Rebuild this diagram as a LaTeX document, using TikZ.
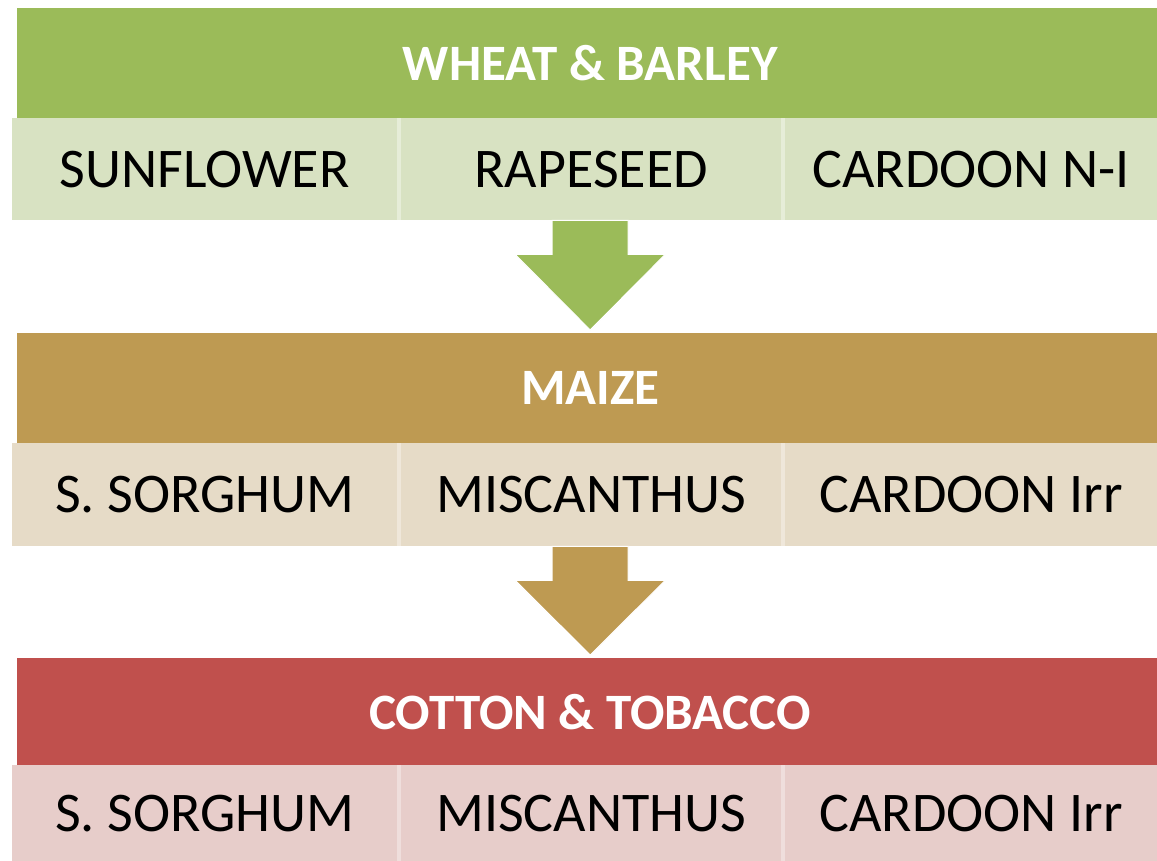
\documentclass[tikz,border=0pt]{standalone}
\usepackage{fontspec}
\setmainfont{Carlito}
\usetikzlibrary{calc}
\definecolor{hgreen}{HTML}{9BBB59}
\definecolor{cgreen}{HTML}{D8E2C2}
\definecolor{ggreen}{HTML}{E6EDD8}
\definecolor{htan}{HTML}{BE9A52}
\definecolor{ctan}{HTML}{E6DBC7}
\definecolor{gtan}{HTML}{EFE7DA}
\definecolor{hred}{HTML}{C0504D}
\definecolor{cred}{HTML}{E7CDCA}
\definecolor{gred}{HTML}{EFDEDC}
\begin{document}
\begin{tikzpicture}[x=1pt,y=-1pt,
  header/.style={rectangle,anchor=north west,inner sep=0pt,minimum width=1140pt,minimum height=110pt,
    text=white,font=\fontsize{51}{56}\selectfont\bfseries},
  cell/.style={rectangle,anchor=north west,inner sep=0pt,minimum height=102pt,
    text=black,font=\fontsize{56}{62}\selectfont},
  blockarrow/.style={draw=white,line width=1pt}]
\useasboundingbox (0,0) rectangle (1157,861);
\fill[white] (0,0) rectangle (1157,861);

% Row 1
\node[header,fill=hgreen] (h1) at (17,8) {\hspace*{6pt}WHEAT \& BARLEY};
\fill[ggreen] (12,118) rectangle (1157,220);
\node[cell,fill=cgreen,minimum width=385pt] (c11) at (12,118) {SUNFLOWER};
\node[cell,fill=cgreen,minimum width=380pt] (c12) at (401,118) {RAPESEED};
\node[cell,fill=cgreen,minimum width=372pt] (c13) at (785,118) {CARDOON N-I};

% Row 2
\node[header,fill=htan] (h2) at (17,333) {\hspace*{6pt}MAIZE};
\fill[gtan] (12,443) rectangle (1157,546);
\node[cell,fill=ctan,minimum width=385pt,minimum height=103pt] (c21) at (12,443) {S. SORGHUM};
\node[cell,fill=ctan,minimum width=380pt,minimum height=103pt] (c22) at (401,443) {MISCANTHUS};
\node[cell,fill=ctan,minimum width=372pt,minimum height=103pt] (c23) at (785,443) {CARDOON Irr};

% Row 3
\node[header,fill=hred,minimum height=107pt] (h3) at (17,658) {\hspace*{6pt}COTTON \& TOBACCO};
\fill[gred] (12,765) rectangle (1157,861);
\node[cell,fill=cred,minimum width=385pt,minimum height=96pt] (c31) at (12,765) {S. SORGHUM};
\node[cell,fill=cred,minimum width=380pt,minimum height=96pt] (c32) at (401,765) {MISCANTHUS};
\node[cell,fill=cred,minimum width=372pt,minimum height=96pt] (c33) at (785,765) {CARDOON Irr};

% Arrows
\coordinate (a1) at ($(c12.south)+(-1,0)$);
\coordinate (t1) at ($(h2.north)+(3,-3)$);
\filldraw[blockarrow,fill=hgreen] ($(a1)+(-38,0)$) -- ($(a1)+(38,0)$) -- ($(a1)+(38,34)$) -- ($(a1)+(75,34)$)
  -- (t1) -- ($(a1)+(-75,34)$) -- ($(a1)+(-38,34)$) -- cycle;

\coordinate (a2) at ($(c22.south)+(-1,0)$);
\coordinate (t2) at ($(h3.north)+(3,-3)$);
\filldraw[blockarrow,fill=htan] ($(a2)+(-38,0)$) -- ($(a2)+(38,0)$) -- ($(a2)+(38,34)$) -- ($(a2)+(75,34)$)
  -- (t2) -- ($(a2)+(-75,34)$) -- ($(a2)+(-38,34)$) -- cycle;
\end{tikzpicture}
\end{document}
